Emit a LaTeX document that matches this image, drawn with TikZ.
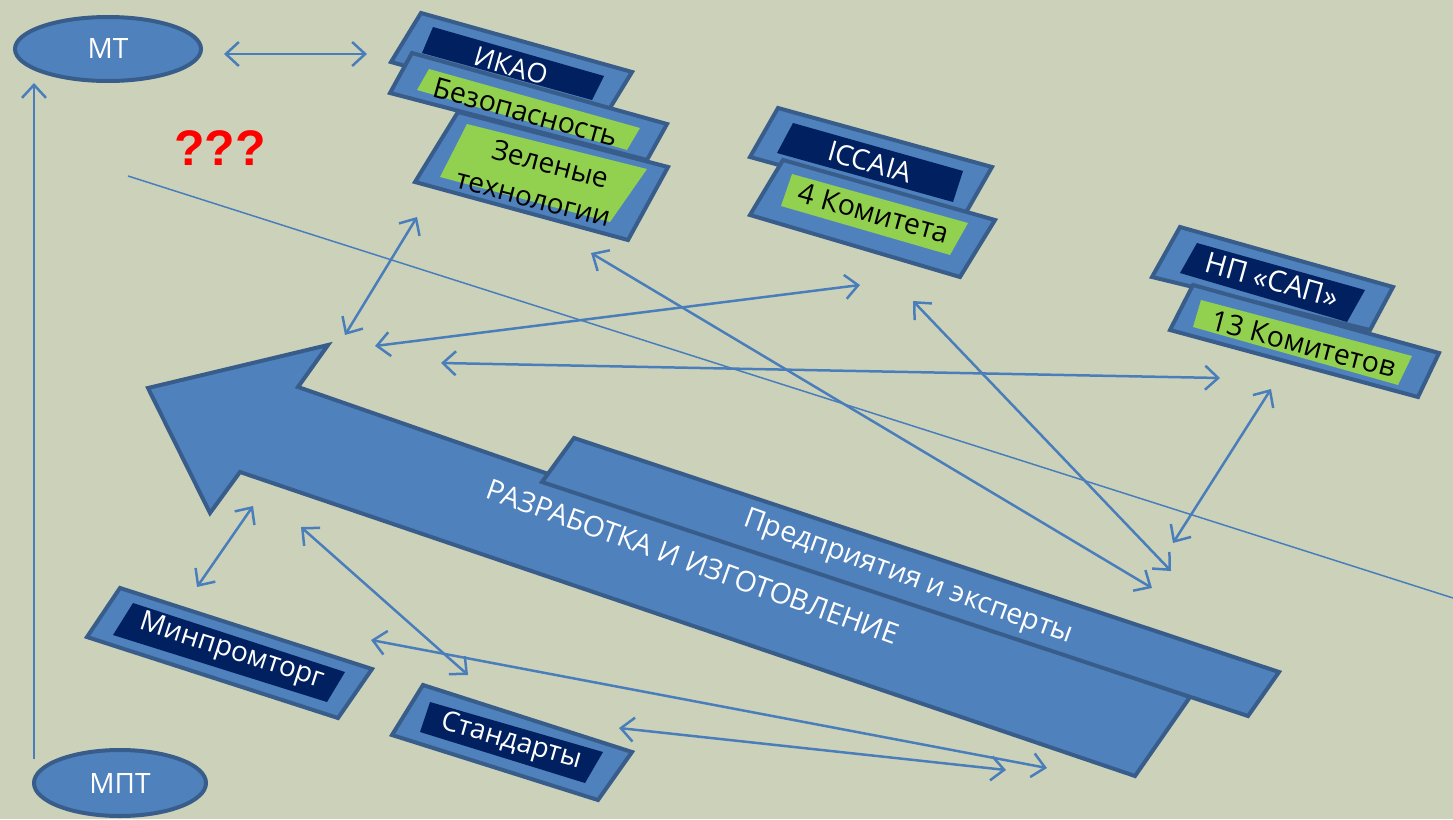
\documentclass[tikz,border=0pt]{standalone}
\usepackage{fontspec}
\setmainfont{Open Sans}
\newfontfamily\qfont{Liberation Sans}
\usetikzlibrary{arrows.meta,shapes.geometric}
\definecolor{bg}{RGB}{204,210,186}
\definecolor{fillblue}{RGB}{79,129,189}
\definecolor{edgeblue}{RGB}{56,93,138}
\definecolor{navy}{RGB}{0,32,96}
\definecolor{lgreen}{RGB}{146,208,80}
\definecolor{lineblue}{RGB}{74,126,187}
\begin{document}
\begin{tikzpicture}[x=1pt,y=-1pt,
  outerbox/.style={fill=fillblue,draw=edgeblue,line width=4pt,line join=miter},
  darkbox/.style={fill=navy},
  greenbox/.style={fill=lgreen},
  wtext/.style={text=white,inner sep=0pt,font=\fontsize{#1}{#1}\selectfont},
  btext/.style={text=black,inner sep=0pt,font=\fontsize{#1}{#1}\selectfont},
  oval/.style={ellipse,fill=fillblue,draw=edgeblue,line width=4pt,text=white,font=\fontsize{28}{28}\selectfont},
  link/.style={draw=lineblue,line width=2.5pt,{Straight Barb[length=13pt,width=24pt]}-{Straight Barb[length=13pt,width=24pt]}},
  uplink/.style={draw=lineblue,line width=2.5pt,-{Straight Barb[length=13pt,width=24pt]}},
  thinline/.style={draw=lineblue,line width=1.5pt},
]
\fill[bg] (0,0) rectangle (1453,819);
\useasboundingbox (0,0) rectangle (1453,819);

% big arrow
\filldraw[outerbox] (148,388) -- (328,345) -- (298,387) -- (1190,697) -- (1135,776) -- (240,472) -- (210,513) -- cycle;
\node[wtext=28.5,rotate=-19.8] (razr) at (693,562) {РАЗРАБОТКА И ИЗГОТОВЛЕНИЕ};
\filldraw[outerbox] (574,438) -- (1279,672) -- (1248,716) -- (542,482) -- cycle;
\node[wtext=28.5,rotate=-19.8] (pred) at (908,578) {Предприятия и эксперты};

% ellipses
\node[oval,minimum width=186pt,minimum height=64pt] (mt) at (108,49) {МТ};
\node[oval,minimum width=172pt,minimum height=66pt] (mpt) at (120,783) {МПТ};

% ICAO group
\filldraw[outerbox] (421,13) -- (632,72) -- (602,121) -- (391,62) -- cycle;
\fill[darkbox] (433,27) -- (604,76) -- (592,100) -- (422,53) -- cycle;
\node[wtext=27,rotate=-16] (ikao) at (511,66) {ИКАО};
\filldraw[outerbox] (412,53) -- (667,124) -- (647,160) -- (390,93) -- cycle;
\fill[greenbox] (429,69) -- (640,128) -- (627,150) -- (417,90) -- cycle;
\node[btext=28.5,rotate=-15.6] (bez) at (526,112) {Безопасность};
\filldraw[outerbox] (458,112) -- (668,167) -- (628,240) -- (415,182) -- cycle;
\fill[greenbox] (467,124) -- (647,169) -- (610,222) -- (440,177) -- cycle;
\node[btext=28,rotate=-14.5,align=center,font=\fontsize{28}{37}\selectfont] (zel) at (538,180) {\hspace*{16pt}Зеленые\\технологии};

% ICCAIA group
\filldraw[outerbox] (778,108) -- (992,167) -- (964,216) -- (750,157) -- cycle;
\fill[darkbox] (793,123) -- (963,171) -- (953,202) -- (777,153) -- cycle;
\node[wtext=28,rotate=-15.8] (iccaia) at (870,162) {ICCAIA};
\filldraw[outerbox] (783,160) -- (995,220) -- (960,277) -- (750,215) -- cycle;
\fill[greenbox] (792,174) -- (968,223) -- (950,255) -- (781,206) -- cycle;
\node[btext=28.5,rotate=-15.6] (kom4) at (874,213) {4 Комитета};

% NP SAP group
\filldraw[outerbox] (1180,227) -- (1393,287) -- (1370,330) -- (1152,277) -- cycle;
\fill[darkbox] (1197,243) -- (1365,290) -- (1347,322) -- (1180,273) -- cycle;
\node[wtext=29,rotate=-15.6] (npsap) at (1272,280) {НП «САП»};
\filldraw[outerbox] (1193,285) -- (1439,353) -- (1418,397) -- (1170,330) -- cycle;
\fill[greenbox] (1201,300) -- (1412,356) -- (1398,385) -- (1193,327) -- cycle;
\node[btext=28.5,rotate=-14.8] (kom13) at (1304,344) {13 Комитетов};

% Minpromtorg
\filldraw[outerbox] (120,588) -- (372,669) -- (338,718) -- (87,637) -- cycle;
\fill[darkbox] (133,603) -- (345,672) -- (327,702) -- (113,635) -- cycle;
\node[wtext=28,rotate=-18] (minprom) at (232,652) {Минпромторг};

% Standarty
\filldraw[outerbox] (423,685) -- (632,752) -- (598,800) -- (392,735) -- cycle;
\fill[darkbox] (430,702) -- (603,752) -- (585,783) -- (420,732) -- cycle;
\node[wtext=27.5,rotate=-16] (stand) at (511,742) {Стандарты};

% question marks
\node[text=red,inner sep=0pt,font=\qfont\bfseries\fontsize{50}{50}\selectfont] (qqq) at (220,148) {???};

% connector end points
\coordinate (mtR) at (224,54);
\coordinate (ikaoL) at (367,54);
\coordinate (mptT) at (34,759);
\coordinate (mtB) at (34,83);
\coordinate (lnA) at (128,176);
\coordinate (lnB) at (1453,598);
\coordinate (a1) at (417,217);
\coordinate (a2) at (345,335);
\coordinate (b1) at (375,346);
\coordinate (b2) at (860,285);
\coordinate (c1) at (441,363);
\coordinate (c2) at (1220,378);
\coordinate (d1) at (591,253);
\coordinate (d2) at (1152,588);
\coordinate (e1) at (913,301);
\coordinate (e2) at (1171,571);
\coordinate (f1) at (1271,389);
\coordinate (f2) at (1173,543);
\coordinate (g1) at (253,506);
\coordinate (g2) at (197,587);
\coordinate (h1) at (301,527);
\coordinate (h2) at (468,675);
\coordinate (i1) at (371,640);
\coordinate (i2) at (1047,768);
\coordinate (j1) at (619,728);
\coordinate (j2) at (1006,770);

\draw[thinline] (lnA) -- (lnB);
\draw[link] (mtR) -- (ikaoL);
\draw[uplink] (mptT) -- (mtB);
\draw[link] (a1) -- (a2);
\draw[link] (b1) -- (b2);
\draw[link] (c1) -- (c2);
\draw[link] (d1) -- (d2);
\draw[link] (e1) -- (e2);
\draw[link] (f1) -- (f2);
\draw[link] (g1) -- (g2);
\draw[link] (h1) -- (h2);
\draw[link] (i1) -- (i2);
\draw[link] (j1) -- (j2);
\end{tikzpicture}
\end{document}
